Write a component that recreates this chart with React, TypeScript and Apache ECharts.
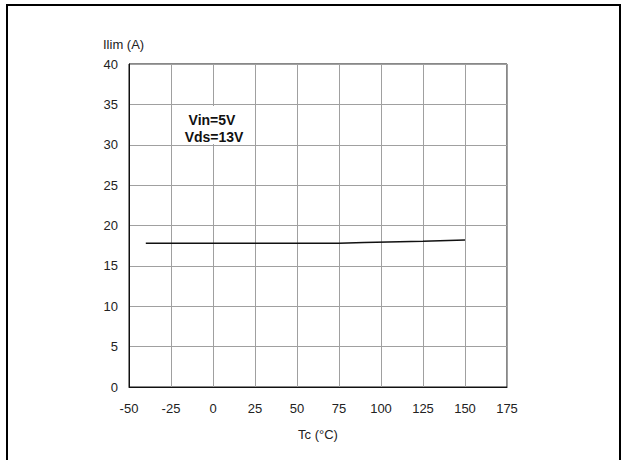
import React, { useEffect, useRef } from "react";
import * as echarts from "echarts";

const tempC = [-40, 0, 50, 75, 90, 125, 150];
const ilimA = [17.8, 17.8, 17.8, 17.8, 17.9, 18.05, 18.2];
const xTicks = [-50, 175, 25];
const yTicks = [0, 40, 5];
const annotation = ["Vin=5V", "Vds=13V"];
const yName = "Ilim (A)";
const xName = "Tc (°C)";

export default function App() {
  const ref = useRef<HTMLDivElement>(null);
  useEffect(() => {
    if (!ref.current) return;
    const chart = echarts.init(ref.current, undefined, { renderer: "svg" });
    const font = "Liberation Sans, Arial, sans-serif";
    chart.setOption({
      animation: false,
      backgroundColor: "#ffffff",
      grid: {
        left: 129,
        top: 64,
        width: 378,
        height: 323,
        show: true,
        borderColor: "#111",
        borderWidth: 1,
      },
      xAxis: {
        type: "value",
        min: xTicks[0],
        max: xTicks[1],
        interval: xTicks[2],
        axisLine: { show: true, onZero: false, lineStyle: { color: "#111", width: 1 } },
        axisTick: { show: false },
        splitLine: { show: true, lineStyle: { color: "#a0a0a0", width: 1 } },
        axisLabel: { color: "#222", fontSize: 13, fontFamily: font, margin: 15 },
      },
      yAxis: {
        type: "value",
        min: yTicks[0],
        max: yTicks[1],
        interval: yTicks[2],
        axisLine: { show: true, onZero: false, lineStyle: { color: "#111", width: 1 } },
        axisTick: { show: false },
        splitLine: { show: true, lineStyle: { color: "#a0a0a0", width: 1 } },
        axisLabel: { color: "#222", fontSize: 13, fontFamily: font, margin: 11 },
      },
      series: [
        {
          type: "line",
          data: tempC.map((t, i) => [t, ilimA[i]]),
          showSymbol: false,
          smooth: false,
          lineStyle: { color: "#111", width: 1.5 },
        },
      ],
      graphic: [
        {
          type: "rect",
          shape: { x: 7, y: 5, width: 613, height: 470 },
          style: { fill: "none", stroke: "#000", lineWidth: 2 },
          silent: true,
        },
        {
          type: "rect",
          z: 10,
          shape: { x: 177, y: 106, width: 72, height: 38 },
          style: { fill: "#ffffff" },
          silent: true,
        },
        {
          type: "text",
          x: 103,
          y: 44,
          style: { text: yName, fill: "#222", fontSize: 13, fontFamily: font, verticalAlign: "middle" },
        },
        {
          type: "text",
          x: 318,
          y: 434,
          style: { text: xName, fill: "#222", fontSize: 13, fontFamily: font, align: "center", verticalAlign: "middle" },
        },
        {
          type: "text",
          z: 11,
          x: 212,
          y: 120,
          style: { text: annotation[0], fill: "#111", fontSize: 14, fontWeight: "bold", fontFamily: font, align: "center", verticalAlign: "middle" },
        },
        {
          type: "text",
          z: 11,
          x: 214,
          y: 137,
          style: { text: annotation[1], fill: "#111", fontSize: 14, fontWeight: "bold", fontFamily: font, align: "center", verticalAlign: "middle" },
        },
      ],
    });
    return () => chart.dispose();
  }, []);
  return (
    <div
      ref={ref}
      style={{ position: "absolute", left: 0, top: 0, width: 622, height: 460 }}
    />
  );
}
